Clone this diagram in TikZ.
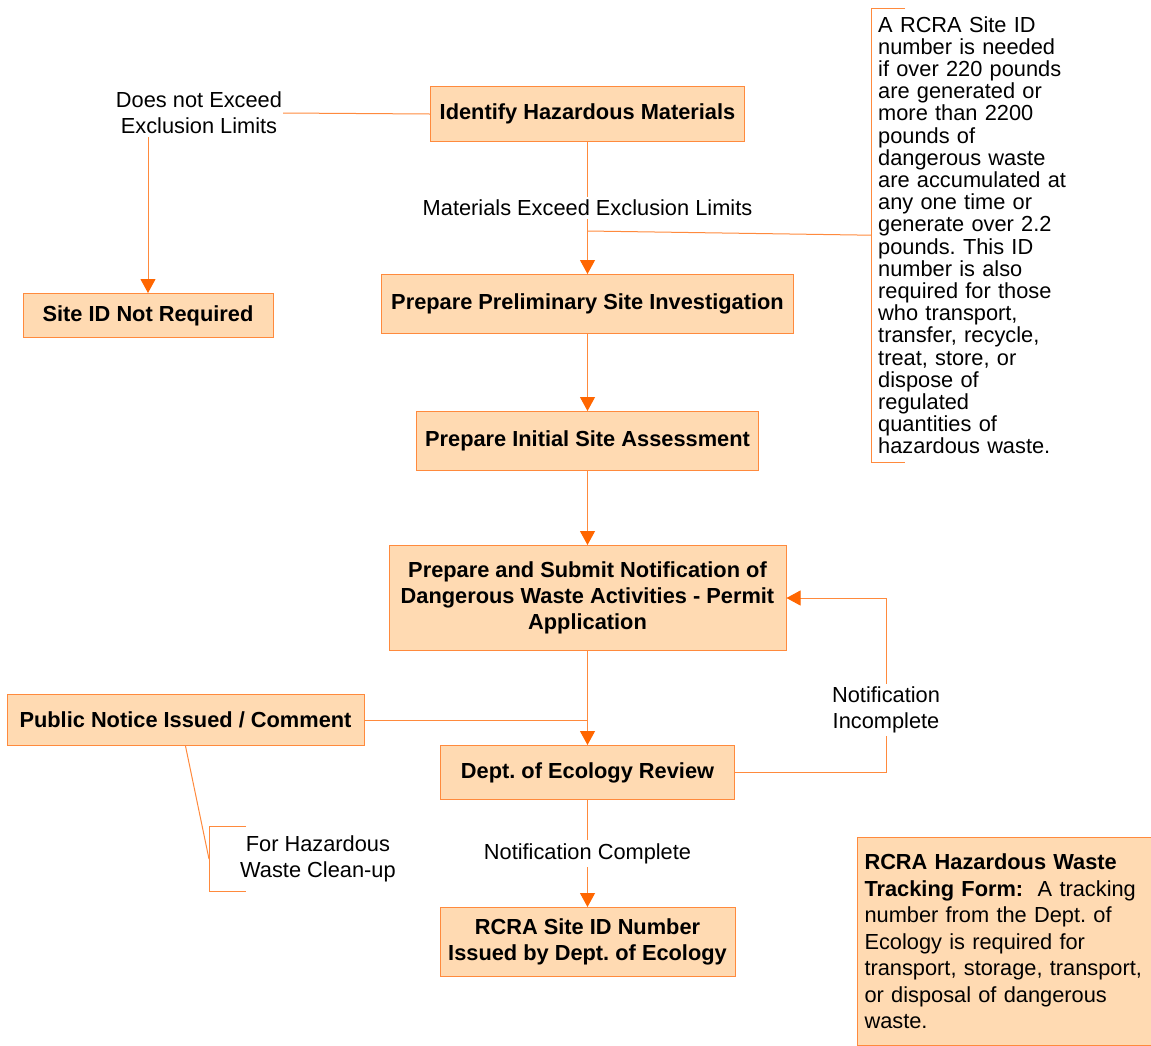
\documentclass[tikz,border=0pt]{standalone}
\usepackage{fontspec}
\setmainfont{Liberation Sans}
\usetikzlibrary{arrows.meta}
\frenchspacing

\definecolor{peach}{HTML}{FFDAB2}
\definecolor{rim}{HTML}{FF8A3D}
\definecolor{tipcol}{HTML}{FF6600}

\tikzset{
  stepbox/.style={draw=rim, line width=1pt, fill=peach, font=\fontsize{21.8}{26}\selectfont\bfseries, align=center, inner sep=0pt},
  lbl/.style={fill=white, align=center, inner xsep=1pt, inner ysep=3pt},
  note/.style={align=left, inner sep=0pt},
  link/.style={draw=rim, line width=1pt},
  flow/.style={link, -{Triangle[width=15pt, length=14pt, color=tipcol, fill=tipcol]}},
}

\begin{document}
\begin{tikzpicture}[x=1pt, y=-1pt, font=\fontsize{21.8}{26}\selectfont]
    \useasboundingbox (0, 0) rectangle (1151, 1045);

    % Main steps
    \node [stepbox, minimum width=314pt, minimum height=55pt] (ident) at (587.5, 114) {Identify Hazardous Materials};
    \node [stepbox, minimum width=250pt, minimum height=44pt] (notreq) at (148, 315.5) {Site ID Not Required};
    \node [stepbox, minimum width=412pt, minimum height=59pt] (prelim) at (587.5, 304) {Prepare Preliminary Site Investigation};
    \node [stepbox, minimum width=342pt, minimum height=59pt] (initial) at (587.5, 441) {Prepare Initial Site Assessment};
    \node [stepbox, minimum width=397pt, minimum height=105pt] (notify) at (587.5, 598) {Prepare and Submit Notification of\\Dangerous Waste Activities - Permit\\Application};
    \node [stepbox, minimum width=357pt, minimum height=51pt] (pubnote) at (185.5, 720) {Public Notice Issued / Comment};
    \node [stepbox, minimum width=294pt, minimum height=54pt] (review) at (587.5, 772.5) {Dept. of Ecology Review};
    \node [stepbox, minimum width=295pt, minimum height=69pt] (issued) at (587.5, 942) {RCRA Site ID Number\\Issued by Dept. of Ecology};

    % Tracking form
    \node [stepbox, font=\fontsize{21.8}{26.5}\selectfont, anchor=north west, align=left, text width=285pt, inner xsep=7pt, minimum height=208pt] (tracking) at (857, 837)
      {\textbf{RCRA Hazardous Waste}\\\textbf{Tracking Form:}~~A tracking\\number from the Dept. of\\Ecology is required for\\transport, storage, transport,\\or disposal of dangerous\\waste.};

    % Not exceeding
    \node [lbl] (nolimit) at (199, 113) {Does not Exceed\\Exclusion Limits};
    \draw [link] (nolimit.east) -- (ident.west);
    \draw [flow] (nolimit.south -| notreq.north) -- (notreq.north);

    % Exceeding
    \draw [flow] (ident.south) -- (prelim.north) node [lbl, midway] {Materials Exceed Exclusion Limits};
    \path (587.5, 231) coordinate (branch);

    % Site ID note
    \node [note, font=\fontsize{21.8}{22.2}\selectfont, anchor=north west, text width=200pt, inner xsep=7pt, inner ysep=3pt, minimum height=454pt] (idnote) at (871, 8)
      {A RCRA Site ID\\number is needed\\if over 220 pounds\\are generated or\\more than 2200\\pounds of\\dangerous waste\\are accumulated at\\any one time or\\generate over 2.2\\pounds. This ID\\number is also\\required for those\\who transport,\\transfer, recycle,\\treat, store, or\\dispose of\\regulated\\quantities of\\hazardous waste.};
    \draw [link] ([xshift=34pt]idnote.north west) -- (idnote.north west) -- (idnote.south west) -- ++(34, 0);
    \draw [link] (branch) -- (idnote.west);

    % Flow down
    \draw [flow] (prelim) -- (initial);
    \draw [flow] (initial) -- (notify);
    \draw [flow] (notify) -- (review);
    \draw [link] (pubnote.east) -- (pubnote.east -| review.north);

    % Clean-up note
    \node [note, anchor=west, minimum height=64pt, inner xsep=31pt, align=center] (cleanup) at (209, 859) {For Hazardous\\Waste Clean-up};
    \draw [link] ([xshift=37pt]cleanup.north west) -- (cleanup.north west) -- (cleanup.south west) -- ++(37, 0);
    \draw [link] (pubnote.south) -- (cleanup.west);

    % Incomplete loop
    \node [lbl] (incomplete) at (886, 710) {Notification\\Incomplete};
    \draw [link] (review.east) -| (incomplete.south);
    \draw [flow] (incomplete.north) |- (notify.east);

    % Complete
    \draw [flow] (review) -- (issued) node [lbl, midway] {Notification Complete};
\end{tikzpicture}
\end{document}
